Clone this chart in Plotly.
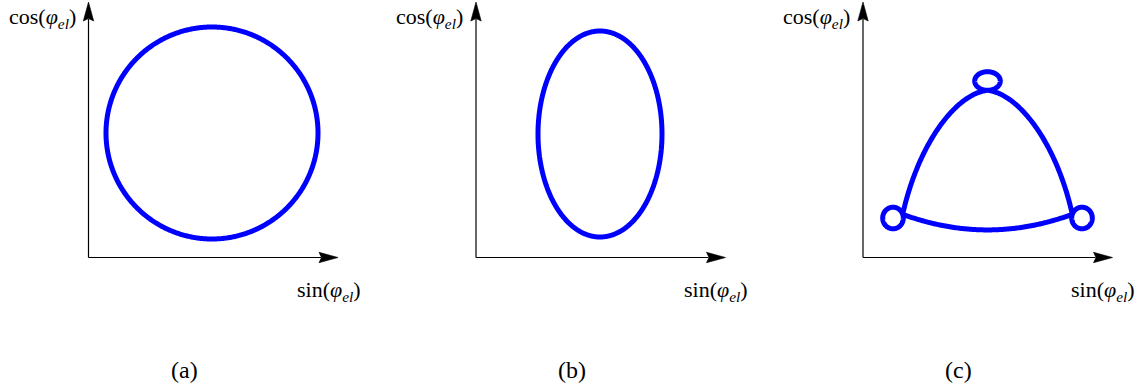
import numpy as np
import plotly.graph_objects as go

# Figure size (px) and the three panels
W, H = 1140, 385
panel_names = ["(a)", "(b)", "(c)"]
origin_px_x = [88.5, 476.0, 863.0]     # where each panel's axes cross (px from left)
origin_px_y = 257.5                     # axis crossing (px from top)
panel_edges_px = [0, 387, 774, 1140]

# Axis lengths (panel units, 1 unit = 1 px)
x_axis_len = 249.5
y_axis_len = 255.5
arrow_len, arrow_half = 19.0, 5.2

# (a) circle
circle_center = (123.5, 124.5)
circle_radius = 106.0

# (b) ellipse
ellipse_center = (124.0, 123.5)
ellipse_radii = (62.0, 103.0)

# (c) rounded triangle with a small loop at each corner
sym_x = 124.5
loop_centers = [(124.5, 176.5), (30.0, 39.5), (219.0, 39.5)]   # top, left, right
loop_radii = [(12.8, 9.3), (10.3, 10.8), (10.3, 10.8)]
loop_attach_deg = [-90.0, 20.0, 160.0]
side_ctrl = [(56.0, 116.0), (94.0, 164.0)]       # left side inner control points
bottom_ctrl = (124.5, 12.0)

curve_color = "#0000ff"
axis_color = "#000000"
label_font = "Liberation Serif, Times New Roman, serif"


def ellipse_pts(c, r, start_deg, n=200):
    t = np.radians(start_deg) + np.linspace(0, 2 * np.pi, n)
    return c[0] + r[0] * np.cos(t), c[1] + r[1] * np.sin(t)


def bezier(pts, n=120):
    t = np.linspace(0, 1, n)[:, None]
    p = np.array(pts, dtype=float)
    if len(p) == 3:
        b = (1 - t) ** 2 * p[0] + 2 * t * (1 - t) * p[1] + t ** 2 * p[2]
    else:
        b = ((1 - t) ** 3 * p[0] + 3 * t * (1 - t) ** 2 * p[1]
             + 3 * t ** 2 * (1 - t) * p[2] + t ** 3 * p[3])
    return b[:, 0], b[:, 1]


def attach_point(i):
    c, r, a = loop_centers[i], loop_radii[i], np.radians(loop_attach_deg[i])
    return (c[0] + r[0] * np.cos(a), c[1] + r[1] * np.sin(a))


def mirror(p):
    return (2 * sym_x - p[0], p[1])


fig = go.Figure()

for k in range(3):
    sfx = "" if k == 0 else str(k + 1)
    xa, ya = "x" + sfx, "y" + sfx

    # axes with arrowheads
    fig.add_trace(go.Scatter(x=[0, 0, None, 0, x_axis_len - arrow_len + 2],
                             y=[0, y_axis_len - arrow_len + 2, None, 0, 0],
                             mode="lines", line=dict(color=axis_color, width=1.2),
                             xaxis=xa, yaxis=ya, hoverinfo="skip"))
    L = x_axis_len
    fig.add_trace(go.Scatter(x=[L, L - arrow_len, L - arrow_len + 2.5, L - arrow_len, L],
                             y=[0, arrow_half, 0, -arrow_half, 0],
                             mode="lines", fill="toself", fillcolor=axis_color,
                             line=dict(color=axis_color, width=0.6),
                             xaxis=xa, yaxis=ya, hoverinfo="skip"))
    L = y_axis_len
    fig.add_trace(go.Scatter(y=[L, L - arrow_len, L - arrow_len + 2.5, L - arrow_len, L],
                             x=[0, arrow_half, 0, -arrow_half, 0],
                             mode="lines", fill="toself", fillcolor=axis_color,
                             line=dict(color=axis_color, width=0.6),
                             xaxis=xa, yaxis=ya, hoverinfo="skip"))

    # curves
    if k == 0:
        cx, cy = ellipse_pts(circle_center, (circle_radius, circle_radius), 0, 720)
    elif k == 1:
        cx, cy = ellipse_pts(ellipse_center, ellipse_radii, 0, 720)
    else:
        top_p, left_p, right_p = attach_point(0), attach_point(1), attach_point(2)
        segs = []
        segs.append(bezier([top_p, mirror(side_ctrl[1]), mirror(side_ctrl[0]), right_p]))
        segs.append(ellipse_pts(loop_centers[2], loop_radii[2], loop_attach_deg[2]))
        segs.append(bezier([right_p, bottom_ctrl, left_p]))
        segs.append(ellipse_pts(loop_centers[1], loop_radii[1], loop_attach_deg[1]))
        segs.append(bezier([left_p, side_ctrl[0], side_ctrl[1], top_p]))
        segs.append(ellipse_pts(loop_centers[0], loop_radii[0], loop_attach_deg[0]))
        cx = np.concatenate([s[0] for s in segs])
        cy = np.concatenate([s[1] for s in segs])
    fig.add_trace(go.Scatter(x=cx, y=cy, mode="lines",
                             line=dict(color=curve_color, width=5, simplify=False),
                             xaxis=xa, yaxis=ya, hoverinfo="skip"))

    # axis ranges so that 1 unit = 1 px
    x0, x1 = panel_edges_px[k], panel_edges_px[k + 1]
    ox = origin_px_x[k]
    fig.layout["xaxis" + sfx] = dict(domain=[x0 / W, x1 / W], range=[x0 - ox, x1 - ox],
                                     visible=False, anchor=ya)
    fig.layout["yaxis" + sfx] = dict(domain=[0, 1], range=[origin_px_y - H, origin_px_y],
                                     visible=False, anchor=xa)

    # labels
    fig.add_annotation(x=-11, y=240, xref=xa, yref=ya, xanchor="right", yanchor="middle",
                       text="cos(<i>φ</i><sub><i>el</i></sub>)", showarrow=False,
                       font=dict(family=label_font, size=22, color="black"))
    fig.add_annotation(x=274, y=-33.5, xref=xa, yref=ya, xanchor="right", yanchor="middle",
                       text="sin(<i>φ</i><sub><i>el</i></sub>)", showarrow=False,
                       font=dict(family=label_font, size=22, color="black"))
    fig.add_annotation(x=95.5, y=-112.5, xref=xa, yref=ya, xanchor="center", yanchor="middle",
                       text=panel_names[k], showarrow=False,
                       font=dict(family=label_font, size=24, color="black"))

fig.update_layout(width=W, height=H, margin=dict(l=0, r=0, t=0, b=0),
                  paper_bgcolor="white", plot_bgcolor="white", showlegend=False)
fig.write_html("out.html")
